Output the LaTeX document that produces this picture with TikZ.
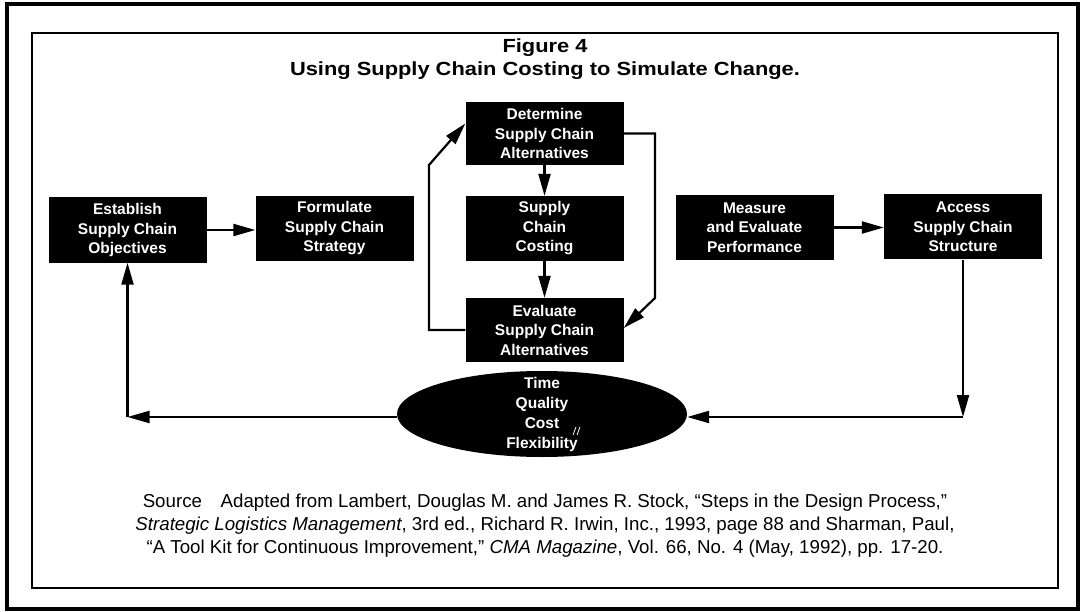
\documentclass[tikz,border=0pt]{standalone}
\usepackage{fontspec}
\setmainfont{Liberation Sans}
\newfontfamily\widesans[FakeStretch=1.15]{Liberation Sans}
\usetikzlibrary{arrows.meta,shapes.geometric}

\begin{document}
\begin{tikzpicture}[x=1pt,y=-1pt,
  stepbox/.style={fill=black, text=white, align=center, inner sep=0pt,
    font=\fontsize{15.5}{19.5}\selectfont\bfseries,
    minimum width=158pt, minimum height=65pt},
  flow/.style={line width=2.2pt, -{Triangle[length=22pt,width=12pt]}},
  titletext/.style={font=\widesans\fontsize{19}{23}\selectfont\bfseries},
  frameline/.style={line width=3.5pt}]

\useasboundingbox (0,0) rectangle (1086,612);

% page frames
\draw[frameline] (7,4) -- (1078,4) -- (1078,609) -- (7,609) -- cycle;
\draw[line width=1.5pt] (32,33) rectangle (1058,588);

% title
\node[titletext] (fig) at (545,48) {Figure 4};
\node[titletext] (ttl) at (545,71) {Using Supply Chain Costing to Simulate Change.};

% process steps
\node[stepbox] (est)  at (127.5,230) {Establish\\Supply Chain\\Objectives};
\node[stepbox] (form) at (334.5,228.5) {Formulate\\Supply Chain\\Strategy};
\node[stepbox, minimum height=63pt] (det) at (544.5,133.5) {Determine\\Supply Chain\\Alternatives};
\node[stepbox] (cost) at (544.5,228.5) {Supply\\Chain\\Costing};
\node[stepbox, minimum height=64pt] (eval) at (544.5,330) {Evaluate\\Supply Chain\\Alternatives};
\node[stepbox] (meas) at (754.5,227.5) {Measure\\and Evaluate\\Performance};
\node[stepbox] (acc)  at (963,227) {Access\\Supply Chain\\Structure};

% performance criteria
\node[ellipse, fill=black, minimum width=290pt, minimum height=86pt, inner sep=0pt] (crit) at (542,414) {};
\node[text=white, align=center, font=\fontsize{15.5}{20}\selectfont\bfseries] (crittext) at (542,414)
  {Time\\Quality\\Cost\\Flexibility};
\draw[white, line width=0.8pt] (573,435) -- (576,427) (577,435) -- (580,427);

% loop corners
\coordinate (lb) at (429,165);
\coordinate (rb) at (655,298);
\coordinate (rc) at (963,417);
\coordinate (lc) at (127.5,417);

% connectors
\draw[flow] (est.east) -- (est.east -| form.west);
\draw[flow] (det) -- (cost);
\draw[flow] (cost) -- (eval);
\draw[flow] (eval.west) -| (lb) -- ([yshift=10pt]det.west);
\draw[flow] (det.east) -| (rb) -- ([yshift=2pt]eval.east);
\draw[flow] (meas.east) -- (meas.east -| acc.west);
\draw[flow] (acc.south) -- (rc);
\draw[flow] (rc) -- (rc -| crit.east);
\draw[flow] (lc -| crit.west) -- (lc);
\draw[flow] (lc) -- (est.south);

% source note
\node[align=center, font=\fontsize{18.7}{23}\selectfont] (src) at (545,526)
  {Source\quad Adapted from Lambert, Douglas M. and James R. Stock, “Steps in the Design Process,”\\
   \textit{Strategic Logistics Management}, 3rd ed., Richard R. Irwin, Inc., 1993, page 88 and Sharman, Paul,\\
   “A Tool Kit for Continuous Improvement,” \textit{CMA Magazine}, Vol. 66, No. 4 (May, 1992), pp. 17-20.};
\end{tikzpicture}
\end{document}
